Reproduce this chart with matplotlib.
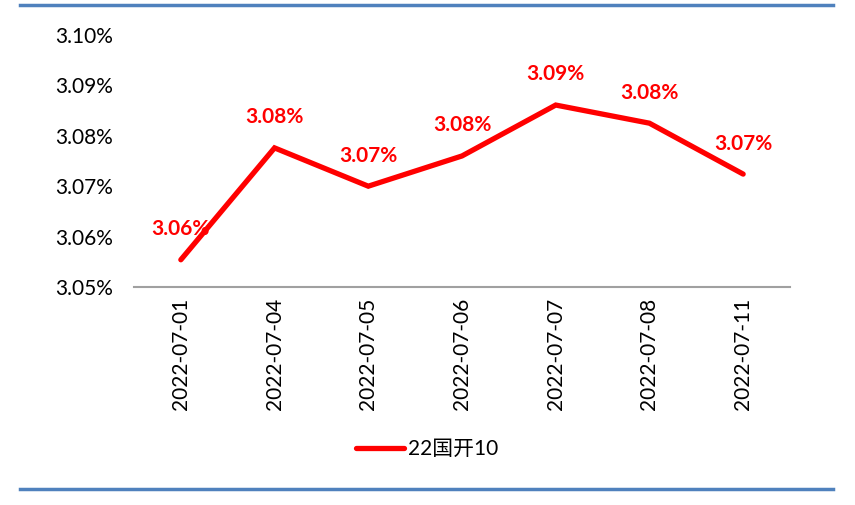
import numpy as np
import matplotlib.pyplot as plt
from matplotlib.lines import Line2D

dates = ['2022-07-01', '2022-07-04', '2022-07-05', '2022-07-06',
         '2022-07-07', '2022-07-08', '2022-07-11']
rates = [3.0554, 3.0776, 3.0700, 3.0760, 3.0861, 3.0825, 3.0724]
yticks = [3.05, 3.06, 3.07, 3.08, 3.09, 3.10]
series_name = '22国开10'

plt.rcParams['font.family'] = ['Lato', 'Noto Sans CJK SC', 'DejaVu Sans']

fig = plt.figure(figsize=(8.55, 5.05), dpi=100)
ax = fig.add_axes([0.1567, 0.4317, 0.7673, 0.499])

x = np.arange(len(dates))
ax.plot(x, rates, color='#ff0000', lw=3.8, solid_capstyle='round',
        solid_joinstyle='miter')

for xi, v in zip(x, rates):
    ax.annotate('%.2f%%' % v, (xi, v), xytext=(0, 22), textcoords='offset points',
                ha='center', va='center', color='#ff0000', fontsize=15,
                fontweight='bold')

ax.set_xlim(-0.5, len(dates) - 0.5)
ax.set_ylim(3.05, 3.10)
ax.set_yticks(yticks)
ax.set_yticklabels(['%.2f%%' % t for t in yticks], fontsize=15)
ax.set_xticks(x)
ax.set_xticklabels(dates, rotation=90, fontsize=15)
ax.tick_params(length=0, pad=8)
ax.tick_params(axis='y', pad=15)
for s in ['top', 'right', 'left']:
    ax.spines[s].set_visible(False)
ax.spines['bottom'].set_color('#a0a0a0')
ax.spines['bottom'].set_linewidth(1.5)

handle = Line2D([], [], color='#ff0000', lw=3.8, solid_capstyle='round')
fig.legend([handle], [series_name], loc='center', bbox_to_anchor=(0.5, 1 - 449 / 505),
           frameon=False, fontsize=15, handlelength=2.3, handletextpad=0.2)

# blue rules at top and bottom
fig.add_artist(Line2D([20 / 855, 833 / 855], [1 - 5 / 505, 1 - 5 / 505],
                      color='#4f81bd', lw=2.5, transform=fig.transFigure))
fig.add_artist(Line2D([20 / 855, 833 / 855], [1 - 489 / 505, 1 - 489 / 505],
                      color='#4f81bd', lw=2.5, transform=fig.transFigure))

fig.savefig('out.png', dpi=100)
